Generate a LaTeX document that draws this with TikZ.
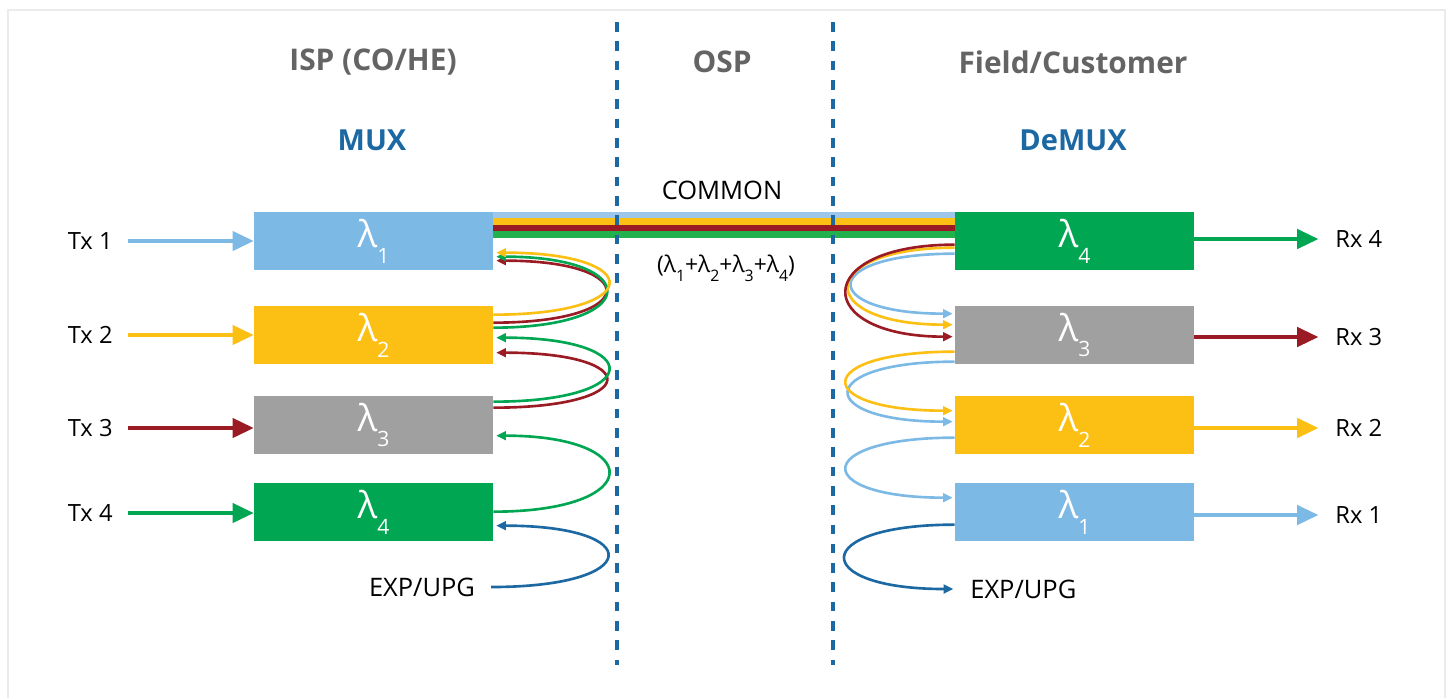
\documentclass[tikz,border=0pt]{standalone}
\usepackage{fontspec}
\setmainfont{Open Sans}
\usetikzlibrary{arrows.meta,calc}
\definecolor{lightblue}{RGB}{125,185,229}
\definecolor{bundleblue}{RGB}{157,199,234}
\definecolor{yellowc}{RGB}{252,191,20}
\definecolor{greenc}{RGB}{0,166,81}
\definecolor{bundlegreen}{RGB}{34,177,76}
\definecolor{grayc}{RGB}{160,160,160}
\definecolor{redc}{RGB}{155,27,36}
\definecolor{darkblue}{RGB}{27,104,163}
\definecolor{headgray}{RGB}{100,100,100}
\definecolor{framec}{RGB}{235,235,235}
\tikzstyle{heading} = [headgray, font=\fontsize{17}{17}\selectfont\bfseries]
\tikzstyle{muxlabel} = [darkblue, font=\fontsize{16.5}{16.5}\selectfont\bfseries]
\tikzstyle{portlabel} = [inner sep=0pt, font=\fontsize{13.5}{13.5}\selectfont]
\tikzstyle{lambdabox} = [minimum width=4.78cm, minimum height=1.16cm, inner sep=0pt, text=white]
\tikzstyle{arrow} = [draw, -{Triangle[length=12pt,width=11pt]}, line width=1.9pt]
\tikzstyle{looparrow} = [draw, -{Triangle[length=5.5pt,width=5pt]}, line width=1.5pt]
\tikzstyle{divider} = [draw, darkblue, line width=2pt, dash pattern=on 5.5pt off 5.5pt]
\newcommand{\lam}[1]{{\fontsize{21}{21}\selectfont λ}\raisebox{-9pt}{\fontsize{12}{12}\selectfont #1}}
\newcommand{\lsub}[1]{λ\raisebox{-5pt}{\fontsize{9}{9}\selectfont #1}}

\begin{document}
\begin{tikzpicture}[x=0.02cm, y=-0.02cm]
\useasboundingbox (0,0) rectangle (1449,698);
\draw[framec, line width=1.2pt] (8,698) -- (8,10) -- (1445,10) -- (1445,698);

%% headings
\node[heading] (isp) at (373, 62) {ISP (CO/HE)};
\node[heading] (osp) at (722, 62) {OSP};
\node[heading] (field) at (1073, 62) {Field/Customer};
\node[muxlabel] (mux) at (372, 140) {MUX};
\node[muxlabel] (demux) at (1073, 140) {DeMUX};

%% MUX
\node[lambdabox, fill=lightblue] (m1) at (373.5, 241) {\lam{1}};
\node[lambdabox, fill=yellowc] (m2) at (373.5, 335) {\lam{2}};
\node[lambdabox, fill=grayc] (m3) at (373.5, 425) {\lam{3}};
\node[lambdabox, fill=greenc] (m4) at (373.5, 512) {\lam{4}};

\node[portlabel, anchor=east] (tx1) at (113, 241) {Tx 1};
\node[portlabel, anchor=east] (tx2) at (113, 335) {Tx 2};
\node[portlabel, anchor=east] (tx3) at (113, 428) {Tx 3};
\node[portlabel, anchor=east] (tx4) at (113, 513) {Tx 4};
\draw[arrow, lightblue, shorten <=8.5pt] (tx1.east) -- (m1.west);
\draw[arrow, yellowc, shorten <=8.5pt] (tx2.east) -- (m2.west);
\draw[arrow, redc, shorten <=8.5pt] (tx3.east) -- (tx3.east -| m3.west);
\draw[arrow, greenc, shorten <=8.5pt] (tx4.east) -- (tx4.east -| m4.west);

%% DeMUX
\node[lambdabox, fill=greenc] (d4) at (1074.5, 241) {\lam{4}};
\node[lambdabox, fill=grayc] (d3) at (1074.5, 335) {\lam{3}};
\node[lambdabox, fill=yellowc] (d2) at (1074.5, 425) {\lam{2}};
\node[lambdabox, fill=lightblue] (d1) at (1074.5, 512) {\lam{1}};

\node[portlabel, anchor=west] (rx4) at (1335, 239) {Rx 4};
\node[portlabel, anchor=west] (rx3) at (1335, 337) {Rx 3};
\node[portlabel, anchor=west] (rx2) at (1335, 428) {Rx 2};
\node[portlabel, anchor=west] (rx1) at (1335, 515) {Rx 1};
\draw[arrow, greenc, shorten >=9.5pt] (rx4.west -| d4.east) -- (rx4.west);
\draw[arrow, redc, shorten >=9.5pt] (rx3.west -| d3.east) -- (rx3.west);
\draw[arrow, yellowc, shorten >=9.5pt] (rx2.west -| d2.east) -- (rx2.west);
\draw[arrow, lightblue, shorten >=9.5pt] (rx1.west -| d1.east) -- (rx1.west);

%% common fibre
\foreach \c/\dy in {bundleblue/3.25, yellowc/9.75, redc/16.25, bundlegreen/22.75}
  \draw[line width=3.7pt, \c] ($(m1.north east)+(0,\dy)$) -- ($(d4.north west)+(0,\dy)$);
\node[font=\fontsize{14.5}{14.5}\selectfont] (common) at (722, 190) {COMMON};
\node[font=\fontsize{13}{13}\selectfont] (sum) at (726, 268) {(\lsub{1}+\lsub{2}+\lsub{3}+\lsub{4})};

%% dividers
\coordinate (ospl top) at (617, 22);
\coordinate (ospl bot) at (617, 665);
\coordinate (ospr top) at (833, 22);
\coordinate (ospr bot) at (833, 665);
\draw[divider] (ospl top) -- (ospl bot);
\draw[divider] (ospr top) -- (ospr bot);

%% MUX loops
\node[portlabel, font=\fontsize{14.5}{14.5}\selectfont] (expl) at (422, 587) {EXP/UPG};
\draw[looparrow, redc] ($(m2.north east)+(0,17)$) .. controls +(149,0) and +(146,0) .. ($(m1.north east)+(3,49)$);
\draw[looparrow, greenc] ($(m2.north east)+(0,22)$) .. controls +(150,0) and +(147,0) .. ($(m1.north east)+(3,45)$);
\draw[looparrow, yellowc] ($(m2.north east)+(0,9)$) .. controls +(153,0) and +(150,0) .. ($(m1.north east)+(3,41)$);
\draw[looparrow, redc] ($(m3.north east)+(0,12)$) .. controls +(150,0) and +(147,0) .. ($(m2.north east)+(3,47)$);
\draw[looparrow, greenc] ($(m3.north east)+(0,6)$) .. controls +(153,0) and +(150,0) .. ($(m2.north east)+(3,32)$);
\draw[looparrow, greenc] ($(m4.north east)+(0,29)$) .. controls +(153,0) and +(150,0) .. ($(m3.north east)+(3,40)$);
\draw[looparrow, darkblue, shorten <=9pt] (expl.east) .. controls +(169,0) and +(150,0) .. ($(m4.north east)+(3,43)$);

%% DeMUX loops
\node[portlabel, anchor=west, font=\fontsize{14.5}{14.5}\selectfont] (expr) at (970, 589) {EXP/UPG};
\draw[looparrow, lightblue] ($(d4.north west)+(0,42)$) .. controls +(-137,0) and +(-135,0) .. ($(d3.north west)+(-2,8)$);
\draw[looparrow, yellowc] ($(d4.north west)+(0,36)$) .. controls +(-141,0) and +(-139,0) .. ($(d3.north west)+(-2,19)$);
\draw[looparrow, redc] ($(d4.north west)+(0,33)$) .. controls +(-144,0) and +(-142,0) .. ($(d3.north west)+(-2,31)$);
\draw[looparrow, lightblue] ($(d3.north west)+(0,56)$) .. controls +(-141,0) and +(-139,0) .. ($(d2.north west)+(-2,26)$);
\draw[looparrow, yellowc] ($(d3.north west)+(0,46)$) .. controls +(-144,0) and +(-142,0) .. ($(d2.north west)+(-2,15)$);
\draw[looparrow, lightblue] ($(d2.north west)+(0,42)$) .. controls +(-144,0) and +(-142,0) .. ($(d1.north west)+(-2,15)$);
\draw[looparrow, darkblue, shorten >=9.5pt] ($(d1.north west)+(0,42)$) .. controls +(-146,0) and +(-161,0) .. (expr.west);
\end{tikzpicture}
\end{document}
